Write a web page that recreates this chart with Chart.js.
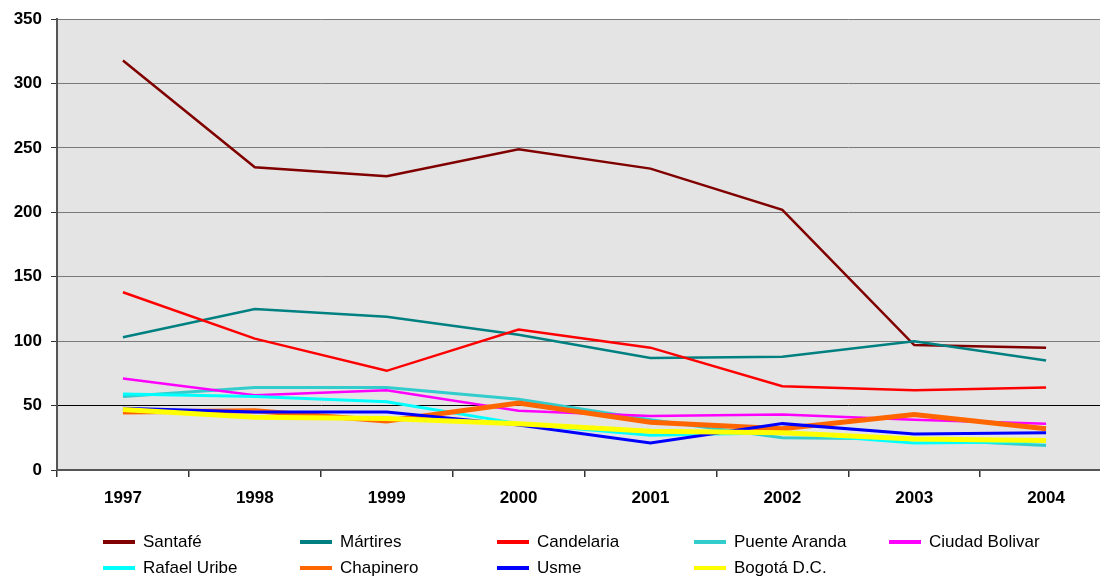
<!DOCTYPE html>
<html>
<head>
<meta charset="utf-8">
<script src="https://cdn.jsdelivr.net/npm/chart.js@4"></script>
<style>
  html, body { margin: 0; padding: 0; background: #fff; overflow: hidden; }
  #wrap { position: relative; width: 1112px; height: 578px; }
  #legend { position: absolute; left: 0; top: 0; font-family: "Liberation Sans", Arial, sans-serif; font-size: 17px; color: #000; }
  .item { position: absolute; white-space: nowrap; line-height: 20px; }
  .item span.sw { position: absolute; left: 0; top: 8px; width: 32px; height: 4px; }
  .item span.tx { position: absolute; left: 40px; top: 0; }
</style>
</head>
<body>
<div id="wrap">
  <canvas id="chart" width="1112" height="578"></canvas>
  <div id="legend"></div>
</div>
<script>
const years = ["1997", "1998", "1999", "2000", "2001", "2002", "2003", "2004"];
const yTicks = [0, 50, 100, 150, 200, 250, 300, 350];

const santafe = [318, 235, 228, 249, 234, 202, 97, 95];
const martires = [103, 125, 119, 105, 87, 88, 100, 85];
const candelaria = [138, 102, 77, 109, 95, 65, 62, 64];
const puenteAranda = [57, 64, 64, 55, 39, 25, 24, 19];
const ciudadBolivar = [71, 58, 62, 46, 42, 43, 39, 36];
const rafaelUribe = [59, 57, 53, 36, 27, 29, 21, 22];
const chapinero = [45, 46, 38, 52, 37, 32, 43, 32];
const usme = [48, 45, 45, 35, 21, 36, 28, 29];
const bogota = [47, 41, 40, 36, 30, 29, 24, 23];

const series = [
  { label: "Santafé", data: santafe, color: "#800000", width: 2.5 },
  { label: "Mártires", data: martires, color: "#008080", width: 2.5 },
  { label: "Candelaria", data: candelaria, color: "#ff0000", width: 2.5 },
  { label: "Puente Aranda", data: puenteAranda, color: "#33cccc", width: 3 },
  { label: "Ciudad Bolivar", data: ciudadBolivar, color: "#ff00ff", width: 2.5 },
  { label: "Rafael Uribe", data: rafaelUribe, color: "#00ffff", width: 3 },
  { label: "Chapinero", data: chapinero, color: "#ff6600", width: 5 },
  { label: "Usme", data: usme, color: "#0000ff", width: 3 },
  { label: "Bogotá D.C.", data: bogota, color: "#ffff00", width: 5 }
];

// grey plot background
const plotBg = {
  id: "plotBg",
  beforeDraw(chart) {
    const a = chart.chartArea, ctx = chart.ctx;
    ctx.save();
    ctx.fillStyle = "#e4e4e4";
    ctx.fillRect(a.left, a.top, a.right - a.left, a.bottom - a.top);
    ctx.restore();
  }
};

const tickFont = { family: "'Liberation Sans', Arial, sans-serif", size: 17, weight: "bold" };

new Chart(document.getElementById("chart"), {
  type: "line",
  data: {
    labels: years,
    datasets: series.map((s, i) => ({
      label: s.label,
      data: s.data,
      borderColor: s.color,
      backgroundColor: s.color,
      borderWidth: s.width,
      pointRadius: 0,
      tension: 0,
      order: series.length - i
    }))
  },
  options: {
    responsive: false,
    animation: false,
    layout: { padding: { top: 19, left: 0, right: 0, bottom: 62 } },
    plugins: { legend: { display: false }, tooltip: { enabled: false } },
    scales: {
      x: {
        offset: true,
        grid: { offset: true, drawOnChartArea: false, drawTicks: true, tickLength: 7, tickColor: "#333", lineWidth: 1.5 },
        border: { display: true, color: "#555", width: 2 },
        ticks: { font: tickFont, color: "#000", padding: 11, maxRotation: 0 },
        afterFit(scale) { scale.height = 46; }
      },
      y: {
        min: 0,
        max: 350,
        afterBuildTicks(scale) { scale.ticks = yTicks.map(v => ({ value: v })); },
        grid: {
          color: ctx => (ctx.tick && ctx.tick.value === 50 ? "#000" : "#7a7a7a"),
          tickColor: "#333",
          tickLength: 6,
          lineWidth: 1
        },
        border: { display: true, color: "#555", width: 2 },
        ticks: { font: tickFont, color: "#000", padding: 9 },
        afterFit(scale) { scale.width = 57; }
      }
    }
  },
  plugins: [plotBg]
});

// legend in two rows, five columns
const legend = document.getElementById("legend");
const colX = [103, 300, 497, 694, 889];
const rowY = [532, 558];
series.forEach((s, i) => {
  const el = document.createElement("div");
  el.className = "item";
  el.style.left = colX[i % 5] + "px";
  el.style.top = rowY[Math.floor(i / 5)] + "px";
  el.innerHTML = '<span class="sw" style="background:' + s.color + '"></span><span class="tx"></span>';
  el.querySelector(".tx").textContent = s.label;
  legend.appendChild(el);
});
</script>
</body>
</html>
